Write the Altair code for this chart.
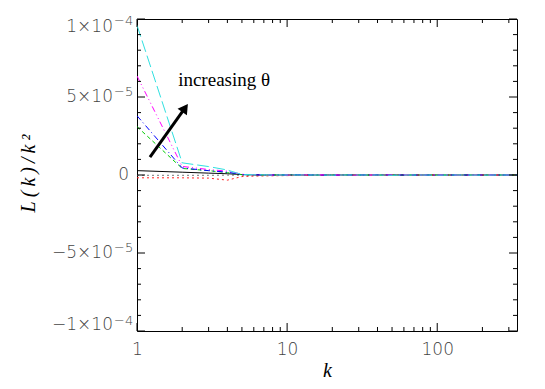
import altair as alt
import pandas as pd

# ---- data ----
k = [1, 2, 3, 4, 5, 6, 7, 8, 10, 12, 15, 20, 25, 30, 40, 50, 60, 80, 100, 120, 150, 200, 250, 300, 340]

s_gray   = [-0.2e-6, -0.2e-6, -0.2e-6, -0.1e-6, -0.1e-6, 0, 0, 0, 0, 0, 0, 0, 0, 0, 0, 0, 0, 0, 0, 0, 0, 0, 0, 0, 0]
s_black  = [2.8e-6, 1.8e-6, 1.2e-6, 0.8e-6, 0.3e-6, 0.1e-6, 0, 0, 0, 0, 0, 0, 0, 0, 0, 0, 0, 0, 0, 0, 0, 0, 0, 0, 0]
s_red    = [-1.8e-6, -1.8e-6, -2.0e-6, -3.3e-6, -1.0e-6, -0.7e-6, -0.6e-6, -0.5e-6, -0.4e-6, -0.3e-6, -0.3e-6, -0.2e-6, -0.1e-6, 0, 0, 0, 0, 0, 0, 0, 0, 0, 0, 0, 0]
s_green  = [3.1e-5, 4.2e-6, 2.8e-6, 1.5e-6, 0.2e-6, 0.1e-6, 0, 0, 0.1e-6, 0, -0.1e-6, 0, 0.1e-6, 0, -0.1e-6, 0, 0, 0.1e-6, 0, 0, 0, 0, 0, 0, 0]
s_blue   = [3.8e-5, 4.5e-6, 2.8e-6, 1.8e-6, 0.3e-6, 0.1e-6, 0, 0, 0, 0.1e-6, 0, -0.1e-6, 0, 0, 0.1e-6, 0, 0, 0, -0.1e-6, 0, 0, 0, 0, 0, 0]
s_mag    = [6.35e-5, 5.5e-6, 3.5e-6, 2.5e-6, 0.5e-6, 0.2e-6, 0.1e-6, 0, 0, 0, 0.1e-6, 0, 0, -0.1e-6, 0, 0, 0.1e-6, 0, 0, 0, -0.1e-6, 0, 0, 0, 0]
s_cyan   = [9.6e-5, 7.8e-6, 5.4e-6, 3.2e-6, 0.3e-6, 0.2e-6, 0.1e-6, 0, 0, 0, 0, -0.1e-6, 0, 0, 0, -0.2e-6, 0, 0, -0.1e-6, 0, 0, -0.1e-6, 0, 0, 0]

names  = ["gray", "black", "red", "green", "blue", "magenta", "cyan"]
values = [s_gray, s_black, s_red, s_green, s_blue, s_mag, s_cyan]
colors = ["#777777", "#000000", "#FF2020", "#00CC00", "#0000FF", "#FF00FF", "#30E0E0"]
dashes = [[2, 3], [1, 0], [2, 3], [4, 3], [6, 3, 1, 3], [6, 3, 1, 3, 1, 3], [12, 4]]

y_major = [-1e-4, -5e-5, 0, 5e-5, 1e-4]
y_minor = [-9e-5, -8e-5, -7e-5, -6e-5, -4e-5, -3e-5, -2e-5, -1e-5,
           1e-5, 2e-5, 3e-5, 4e-5, 6e-5, 7e-5, 8e-5, 9e-5]
x_major = [1, 10, 100]
x_minor = [2, 3, 4, 5, 6, 7, 8, 9, 20, 30, 40, 50, 60, 70, 80, 90, 200, 300]

# y tick labels: mantissa and exponent
ylab_top = {"v": [1e-4], "m": ["1×10"], "e": ["−4"]}
ylab_mid = {"v": [5e-5, -5e-5], "m": ["5×10", "−5×10"], "e": ["−5", "−5"]}
ylab_bot = {"v": [-1e-4], "m": ["−1×10"], "e": ["−4"]}
ylab_zero = {"v": [0], "m": ["0"]}

arrow_k = [1.22, 2.09]
arrow_v = [1.15e-5, 4.3e-5]
note_k = [1.88]
note_v = [6.1e-5]
note_text = ["increasing θ"]

y_title = "L\u2009(\u2009k\u2009)\u2009/\u2009k\u2009²"

# ---- build ----
rows = []
for n, vals in zip(names, values):
    for kk, v in zip(k, vals):
        rows.append({"k": kk, "v": v, "s": n})
df = pd.DataFrame(rows)

W, H = 380, 312
x_scale = alt.Scale(type="log", domain=[1, 340], nice=False)
y_scale = alt.Scale(domain=[-1e-4, 1e-4], nice=False, zero=False)

LFONT = "DejaVu Sans"
LSIZE = 17
LCOL = "#444444"

x_axis = alt.Axis(values=x_major, format="d", title="k", labelFlush=False,
                  labelPadding=10, titleY=45, titleBaseline="alphabetic")
y_axis = alt.Axis(values=y_major, labels=False, title=y_title,
                  titleX=-109, titleY=H / 2 - 2, titleBaseline="middle")

def X(field="k"):
    return alt.X(f"{field}:Q", scale=x_scale, axis=x_axis)

def Y(field="v"):
    return alt.Y(f"{field}:Q", scale=y_scale, axis=y_axis)

lines = alt.Chart(df).mark_line(strokeWidth=1, clip=True).encode(
    x=X(), y=Y(),
    color=alt.Color("s:N", scale=alt.Scale(domain=names, range=colors), legend=None),
    strokeDash=alt.StrokeDash("s:N", scale=alt.Scale(domain=names, range=dashes), legend=None),
)

def yticks(vals, length):
    d = pd.DataFrame({"v": vals})
    left = alt.Chart(d).mark_rule(color="black", strokeWidth=1).encode(
        y=Y(), x=alt.value(0), x2=alt.value(length))
    right = alt.Chart(d).mark_rule(color="black", strokeWidth=1).encode(
        y=Y(), x=alt.value(W), x2=alt.value(W - length))
    return [left, right]

def xticks(vals, length):
    d = pd.DataFrame({"k": vals})
    bottom = alt.Chart(d).mark_rule(color="black", strokeWidth=1).encode(
        x=X(), y=alt.value(H), y2=alt.value(H - length))
    top = alt.Chart(d).mark_rule(color="black", strokeWidth=1).encode(
        x=X(), y=alt.value(0), y2=alt.value(length))
    return [bottom, top]

def ylabels(d, baseline, dy_m, dy_e):
    d = pd.DataFrame(d)
    m = alt.Chart(d).mark_text(align="right", baseline=baseline, dy=dy_m, font=LFONT,
                               fontSize=LSIZE, fontWeight=200, color=LCOL).encode(
        y=Y(), x=alt.value(-24), text="m:N")
    e = alt.Chart(d).mark_text(align="left", baseline=baseline, dy=dy_e, dx=0, font=LFONT,
                               fontSize=13, fontWeight=200, color=LCOL).encode(
        y=Y(), x=alt.value(-23), text="e:N")
    return [m, e]

zero_lab = alt.Chart(pd.DataFrame(ylab_zero)).mark_text(
    align="right", baseline="middle", font=LFONT, fontSize=LSIZE, fontWeight=200, color=LCOL).encode(
    y=Y(), x=alt.value(-8), text="m:N")

arrow_df = pd.DataFrame({"k": [arrow_k[0]], "k2": [arrow_k[1]], "v": [arrow_v[0]], "v2": [arrow_v[1]]})
arrow = alt.Chart(arrow_df).mark_rule(color="black", strokeWidth=3).encode(
    x=X(), x2="k2:Q", y=Y(), y2="v2:Q")
head = alt.Chart(pd.DataFrame({"k": [arrow_k[1]], "v": [arrow_v[1]]})).mark_point(
    shape="triangle-up", filled=True, color="black", opacity=1, size=130, angle=35).encode(
    x=X(), y=Y())
note = alt.Chart(pd.DataFrame({"k": note_k, "v": note_v, "t": note_text})).mark_text(
    align="left", baseline="middle", font="Liberation Serif", fontSize=19, color="black").encode(
    x=X(), y=Y(), text="t:N")

layers = ([lines] + yticks(y_major, 8) + yticks(y_minor, 4) + xticks(x_major, 8) + xticks(x_minor, 4)
          + ylabels(ylab_top, "top", 0, -4) + ylabels(ylab_mid, "middle", 0, -5)
          + ylabels(ylab_bot, "alphabetic", -1, -6) + [zero_lab, arrow, head, note])

chart = alt.layer(*layers).properties(
    width=W, height=H,
    autosize=alt.AutoSizeParams(type="none"),
    padding={"left": 129, "top": 11, "right": 20, "bottom": 50},
).configure_view(stroke="black", strokeWidth=1).configure_axis(
    domain=False, ticks=False, grid=False,
    labelFont=LFONT, labelFontSize=LSIZE, labelFontWeight=200, labelColor=LCOL,
    titleFont="Liberation Serif", titleFontStyle="italic", titleFontWeight="normal",
    titleFontSize=20, titleColor="black",
)

chart.save("out.html", embed_options={"renderer": "svg", "actions": False})
